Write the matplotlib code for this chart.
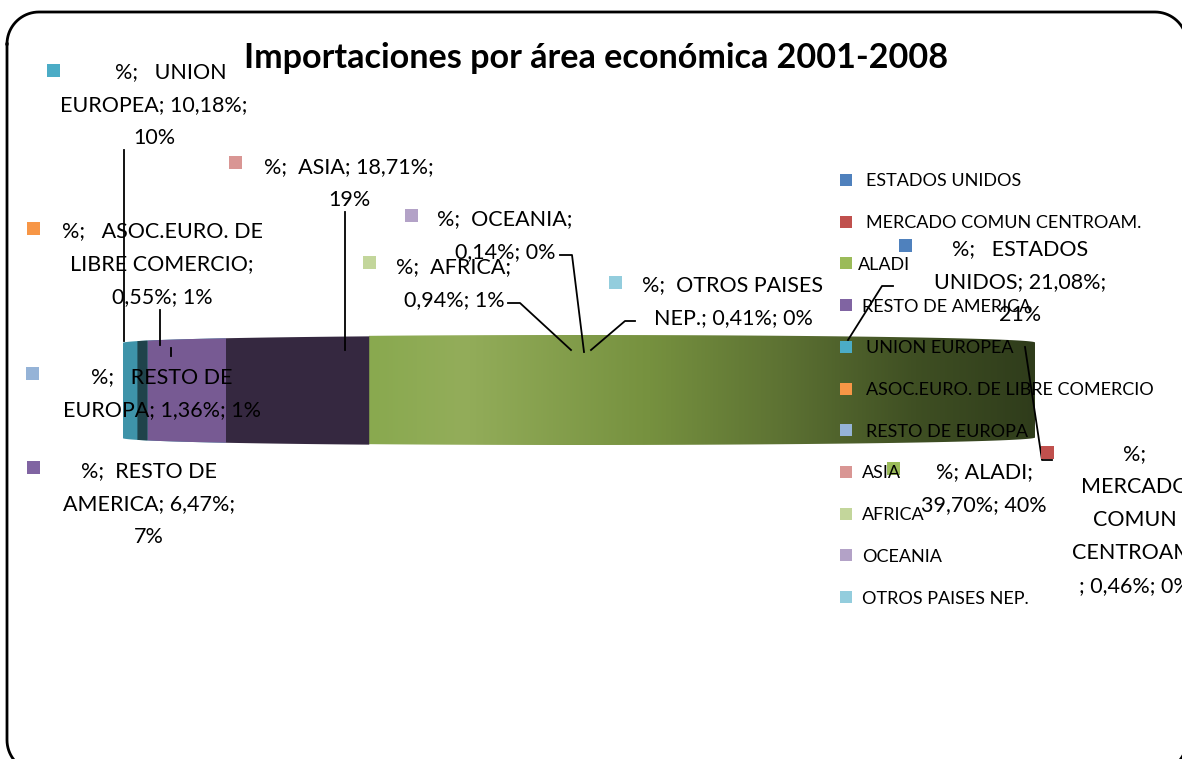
import textwrap
import numpy as np
import matplotlib
matplotlib.use("Agg")
import matplotlib.pyplot as plt
from matplotlib.patches import Rectangle
from matplotlib.colors import LinearSegmentedColormap
from matplotlib.lines import Line2D

plt.rcParams['font.family'] = ['Lato', 'DejaVu Sans']

# ---------------- data ----------------
title = "Importaciones por área económica 2001-2008"
areas = ["ESTADOS UNIDOS", "MERCADO COMUN CENTROAM.", "ALADI", "RESTO DE AMERICA",
         "UNION EUROPEA", "ASOC.EURO. DE LIBRE COMERCIO", "RESTO DE EUROPA", "ASIA",
         "AFRICA", "OCEANIA", "OTROS PAISES NEP."]
shares = [21.08, 0.46, 39.70, 6.47, 10.18, 0.55, 1.36, 18.71, 0.94, 0.14, 0.41]
rounded = [21, 0, 40, 7, 10, 1, 1, 19, 1, 0, 0]
colors = ["#4f81bd", "#c0504d", "#9bbb59", "#8064a2", "#4bacc6", "#f79646",
          "#95b3d7", "#d99694", "#c3d69b", "#b3a2c7", "#93cddd"]

# ---------------- figure ----------------
W, H = 1182, 759
fig = plt.figure(figsize=(W / 100, H / 100), dpi=100)

# ---------------- 3D pie seen edge-on (drawn first, behind texts) ----------------
bx0, bx1, byc = 122, 1035, 390
axb = fig.add_axes([bx0 / W, 1 - (byc + 56) / H, (bx1 - bx0) / W, 112 / H])
axb.set_xlim(-1, 1)
axb.set_ylim(-56, 56)
axb.axis('off')

VIEW_REF = 78.64          # percent position seen at the far-left point
HALF_EDGE, HALF_BULGE = 47.5, 7.5
PX_PER_UNIT = (bx1 - bx0) / 2

def half_h(x):
    return HALF_EDGE + HALF_BULGE * np.sqrt(np.clip(1 - x ** 2, 0, 1))

face_colors = {"UNION EUROPEA": "#3e93a9", "RESTO DE AMERICA": "#352840"}
cut_faces = [("RESTO DE AMERICA", 0.172, "#775a93"), ("UNION EUROPEA", 0.022, "#1f434b")]
grad = LinearSegmentedColormap.from_list(
    "aladi", [(0.0, "#89a94f"), (0.14, "#93ad5a"), (0.42, "#76913f"),
              (0.62, "#5d7233"), (0.82, "#3f4f23"), (1.0, "#2f3c1b")])

cum = np.concatenate([[0], np.cumsum(shares)])
bounds = {}
for i, name in enumerate(areas):
    a0 = ((VIEW_REF - cum[i + 1]) % 100) * 2 * np.pi / 100
    a1 = a0 + shares[i] * 2 * np.pi / 100
    for k in (-2 * np.pi, 0):
        lo, hi = max(a0 + k, 0), min(a1 + k, np.pi)
        if hi <= lo:
            continue
        a = np.linspace(lo, hi, 80)
        x = -np.cos(a)
        if (x[-1] - x[0]) * PX_PER_UNIT < 1:
            continue  # sub-pixel sliver, not visible
        h = half_h(x)
        bounds[name] = (x[0], x[-1])
        if name == "ALADI":
            poly = axb.fill_between(x, -h, h, color='none', lw=0)
            img = axb.imshow(np.linspace(0, 1, 256)[None, :], cmap=grad, aspect='auto',
                             extent=(x[0], x[-1], -56, 56), zorder=1)
            img.set_clip_path(poly.get_paths()[0], transform=axb.transData)
        else:
            axb.fill_between(x, -h, h, color=face_colors.get(name, colors[i]), lw=0, zorder=1)

# cut faces of the exploded slice, drawn leftwards from its boundary
right = bounds["RESTO DE AMERICA"][0]
for name, depth, col in cut_faces:
    x = np.linspace(right - depth, right, 40)
    h = half_h(x)
    axb.fill_between(x, -h, h, color=col, lw=0, zorder=2)
    right = right - depth

# ---------------- overlay axes for texts (pixel coords) ----------------
ax = fig.add_axes([0, 0, 1, 1])
ax.set_xlim(0, W)
ax.set_ylim(H, 0)
ax.axis('off')
ax.set_facecolor('none')

# rounded chart-area frame
fx0, fy0, fx1, fy1, fr = 7, 12, 1187, 772, 32
t = np.linspace(0, np.pi / 2, 20)
frame_x = np.concatenate([fx0 + fr - fr * np.cos(t), fx1 - fr + fr * np.sin(t),
                          fx1 - fr + fr * np.cos(t), fx0 + fr - fr * np.sin(t), [fx0]])
frame_y = np.concatenate([fy0 + fr - fr * np.sin(t), fy0 + fr - fr * np.cos(t),
                          fy1 - fr + fr * np.sin(t), fy1 - fr + fr * np.cos(t), [fy0 + fr]])
ax.plot(frame_x, frame_y, color='black', lw=2, zorder=1)

ax.text(596, 55, title, ha='center', va='center_baseline', fontsize=24.6,
        fontweight='bold', color='black')

# ---------------- data labels ----------------
fs_lab = 15.5
line_pitch = 33
label_pos = {"ESTADOS UNIDOS": (1020, 247), "MERCADO COMUN CENTROAM.": (1135, 452),
             "ALADI": (984, 470), "RESTO DE AMERICA": (149, 469), "UNION EUROPEA": (154, 70),
             "ASOC.EURO. DE LIBRE COMERCIO": (162, 229), "RESTO DE EUROPA": (162, 375),
             "ASIA": (349, 165), "AFRICA": (454, 265), "OCEANIA": (505, 217),
             "OTROS PAISES NEP.": (733, 283)}
wrap_w = {"ESTADOS UNIDOS": 15, "MERCADO COMUN CENTROAM.": 9, "ALADI": 11,
          "RESTO DE AMERICA": 15, "UNION EUROPEA": 16, "ASOC.EURO. DE LIBRE COMERCIO": 16,
          "RESTO DE EUROPA": 17, "ASIA": 17, "AFRICA": 11, "OCEANIA": 12,
          "OTROS PAISES NEP.": 15}
tail_on_own_line = {"MERCADO COMUN CENTROAM."}
gap = {"ESTADOS UNIDOS": 3, "UNION EUROPEA": 3, "ASOC.EURO. DE LIBRE COMERCIO": 3,
       "RESTO DE EUROPA": 3, "ALADI": 1}
lead = {"UNION EUROPEA": 6}
key_pos = {"ESTADOS UNIDOS": (905, 245), "MERCADO COMUN CENTROAM.": (1047, 452),
           "ALADI": (893, 468), "RESTO DE AMERICA": (33, 467), "UNION EUROPEA": (53, 70),
           "ASOC.EURO. DE LIBRE COMERCIO": (33, 228), "RESTO DE EUROPA": (32, 373),
           "ASIA": (235, 162), "AFRICA": (369, 262), "OCEANIA": (411, 215),
           "OTROS PAISES NEP.": (615, 282)}

def fmt_pct(v):
    return f"{v:.2f}".replace('.', ',') + "%"

for i, name in enumerate(areas):
    tail = f"{fmt_pct(shares[i])}; {rounded[i]}%"
    if name in tail_on_own_line:
        lines = textwrap.wrap(f"%; {name}", wrap_w[name]) + ["; " + tail]
    else:
        lines = textwrap.wrap(f"%; {name}; {tail}", wrap_w[name])
    lines[0] = " " * lead.get(name, 0) + lines[0].replace("%; ", "%;" + " " * gap.get(name, 2), 1)
    cx, cy = label_pos[name]
    for k, ln in enumerate(lines):
        ax.text(cx, cy + k * line_pitch, ln, ha='center', va='center_baseline',
                fontsize=fs_lab, color='black', zorder=5, clip_on=True)
    kx, ky = key_pos[name]
    ax.add_patch(Rectangle((kx - 6.5, ky - 6.5), 13, 13, color=colors[i], lw=0, zorder=4))

# leader lines
leaders = [[(124, 150), (124, 341)], [(345, 212), (345, 350)], [(160, 310), (160, 345)],
           [(171, 348), (171, 356)], [(508, 303), (520, 303), (571, 350)],
           [(560, 255), (572, 255), (584, 352)], [(635, 321), (625, 321), (591, 350)],
           [(893, 286), (882, 286), (848, 340)], [(1052, 460), (1042, 460), (1025, 347)]]
for pts in leaders:
    xs, ys = zip(*pts)
    ax.add_line(Line2D(xs, ys, color='black', lw=1.3, zorder=3))

# ---------------- legend ----------------
fs_leg = 13
leg_y0, leg_dy = 180, 41.7
leg_tx = [866, 866, 858, 862, 866, 866, 866, 862, 862, 862, 862]
for i, name in enumerate(areas):
    y = leg_y0 + i * leg_dy
    ax.add_patch(Rectangle((840, y - 6), 12, 12, color=colors[i], lw=0, zorder=4))
    ax.text(leg_tx[i], y, name, ha='left', va='center_baseline', fontsize=fs_leg,
            color='black', zorder=5)

fig.savefig("out.png", dpi=100)
